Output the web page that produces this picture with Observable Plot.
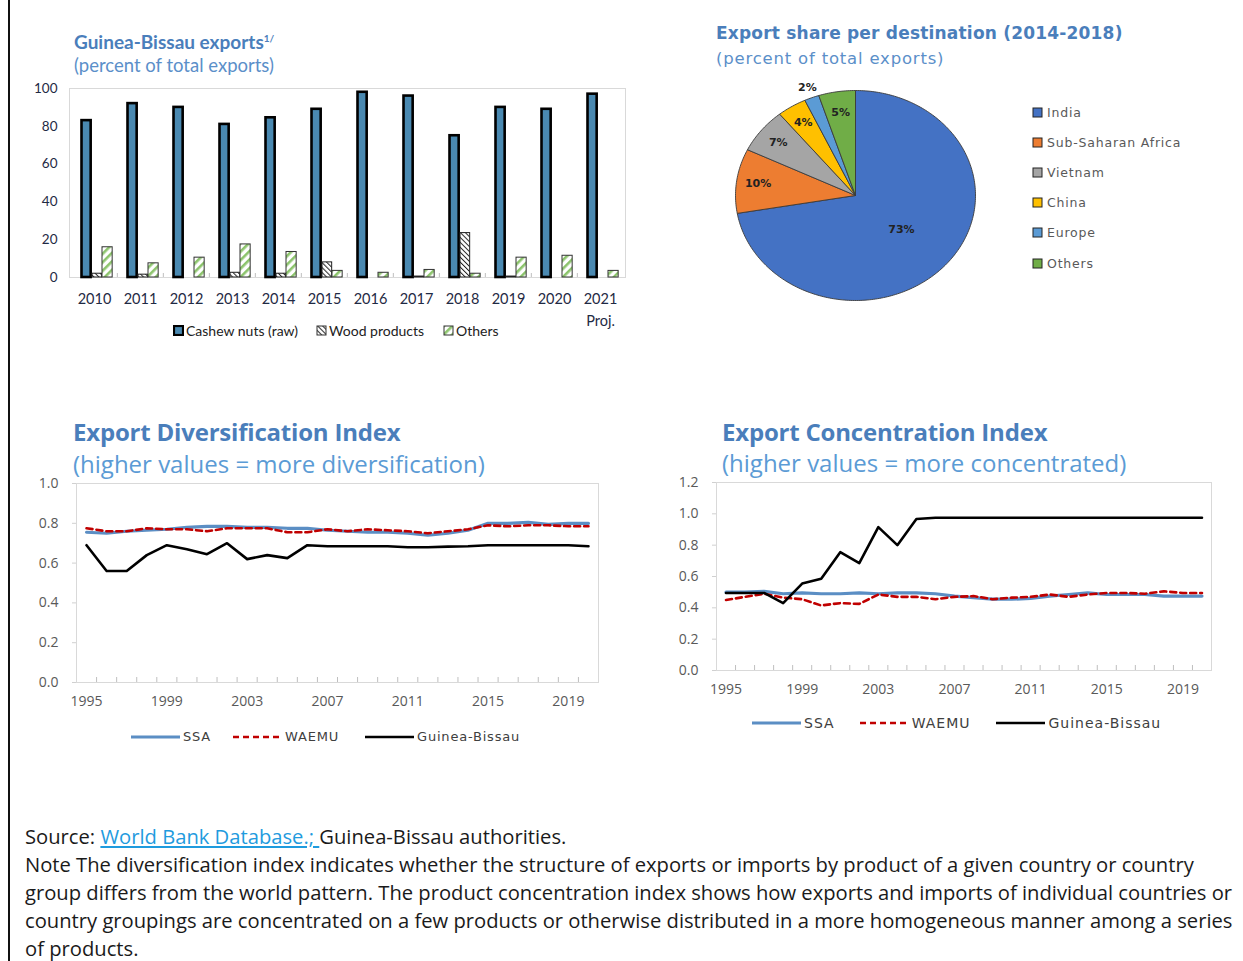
<!DOCTYPE html>
<html><head><meta charset="utf-8">
<script src="https://cdn.jsdelivr.net/npm/d3@7"></script>
<script src="https://cdn.jsdelivr.net/npm/@observablehq/plot@0.6"></script>
<style>
body{margin:0;width:1243px;height:961px;position:relative;background:#fff;overflow:hidden;font-family:"Open Sans",sans-serif}
.abs{position:absolute;white-space:nowrap}
.t1{font-family:Lato,sans-serif;font-size:19px;font-weight:bold;color:#4a7ebb;line-height:20px}
.s1{font-family:Lato,sans-serif;font-size:18.5px;color:#5b8fc9;line-height:20px}
.t2{font-family:"DejaVu Sans",sans-serif;font-size:17px;font-weight:bold;color:#4a7ebb;line-height:20px;letter-spacing:0.2px}
.s2{font-family:"DejaVu Sans",sans-serif;font-size:16.5px;color:#5b8fc9;line-height:20px;letter-spacing:0.8px}
.t3{font-family:"Open Sans",sans-serif;font-size:24px;font-weight:700;color:#4a7ebb;line-height:28px;letter-spacing:-0.2px}
.s3{font-family:"Open Sans",sans-serif;font-size:24px;color:#5b9bd5;line-height:28px}
.leg{display:flex;align-items:center;font-family:"DejaVu Sans",sans-serif;color:#404040}
.leg span{display:inline-flex;align-items:center}
.note{font-family:"Open Sans",sans-serif;font-size:20.2px;color:#1a1a1a;line-height:28px;left:25px}
.note a{color:#1f9bde;text-decoration:underline}
</style></head><body>
<svg width="0" height="0" style="position:absolute">
  <defs>
    <pattern id="hatchWood" patternUnits="userSpaceOnUse" width="3.5" height="3.5" patternTransform="rotate(-45)">
      <rect width="3.5" height="3.5" fill="#fff"/>
      <rect width="1" height="3.5" fill="#222"/>
    </pattern>
    <pattern id="hatchOthers" patternUnits="userSpaceOnUse" width="6" height="6" patternTransform="rotate(45)">
      <rect width="6" height="6" fill="#fff"/>
      <rect width="2.6" height="6" fill="#8cc46c"/>
    </pattern>
  </defs>
</svg>
<div class="abs" style="left:8px;top:0;width:2px;height:961px;background:#111"></div>

<div class="abs t1" style="left:74px;top:28px">Guinea-Bissau exports<sup style="font-size:10px">1/</sup></div>
<div class="abs s1" style="left:74px;top:55px">(percent of total exports)</div>
<div id="bar" class="abs" style="left:20px;top:80px"></div>
<div id="barLegend" class="abs leg" style="left:173px;top:322px;font-family:Lato,sans-serif;font-size:14px;color:#222"></div>

<div class="abs t2" style="left:716px;top:23px">Export share per destination (2014-2018)</div>
<div class="abs s2" style="left:716px;top:49px">(percent of total exports)</div>
<div id="pie" class="abs" style="left:700px;top:80px"></div>
<div id="pieLegend" class="abs" style="left:1032px;top:103px;font-family:'DejaVu Sans',sans-serif;font-size:12.5px;color:#595959;letter-spacing:0.8px"></div>

<div class="abs t3" style="left:73px;top:418px">Export Diversification Index</div>
<div class="abs s3" style="left:73px;top:450px">(higher values = more diversification)</div>
<div id="div" class="abs" style="left:20px;top:470px"></div>
<div id="divLegend" class="abs leg" style="left:131px;top:729px;font-size:13px;letter-spacing:0.8px"></div>

<div class="abs t3" style="left:722px;top:418px">Export Concentration Index</div>
<div class="abs s3" style="left:722px;top:449px">(higher values = more concentrated)</div>
<div id="conc" class="abs" style="left:660px;top:470px"></div>
<div id="concLegend" class="abs leg" style="left:752px;top:715px;font-size:14px;letter-spacing:1px"></div>

<div class="abs note" style="top:822px">Source: <a>World Bank Database.; </a>Guinea-Bissau authorities.<br>Note The diversification index indicates whether the structure of exports or imports by product of a given country or country<br>group differs from the world pattern. The product concentration index shows how exports and imports of individual countries or<br>country groupings are concentrated on a few products or otherwise distributed in a more homogeneous manner among a series<br>of products.</div>

<script>
// ---------- Data: Guinea-Bissau exports (percent of total exports) ----------
const barYears = ["2010","2011","2012","2013","2014","2015","2016","2017","2018","2019","2020","2021"];
const cashewNuts = [83, 92, 90, 81, 84.5, 89, 98, 96, 75, 90, 89, 97];
const woodProducts = [2, 1.5, 0, 2.5, 2, 8, 0, 0.5, 23.5, 0.5, 0, 0];
const otherExports = [16, 7.5, 10.5, 17.5, 13.5, 3.5, 2.5, 4, 2, 10.5, 11.5, 3.5];
const barSeries = ["Cashew nuts (raw)", "Wood products", "Others"];
const barYTicks = [0, 20, 40, 60, 80, 100];

// ---------- Data: Export share per destination (2014-2018) ----------
const pieNames = ["India", "Sub-Saharan Africa", "Vietnam", "China", "Europe", "Others"];
const pieShares = [73, 10, 7, 4, 2, 5];
const pieColors = ["#4472c4", "#ed7d31", "#a5a5a5", "#ffc000", "#5b9bd5", "#70ad47"];

// ---------- Data: indices ----------
const idxYears = [1995,1996,1997,1998,1999,2000,2001,2002,2003,2004,2005,2006,2007,2008,2009,2010,2011,2012,2013,2014,2015,2016,2017,2018,2019,2020];
const idxTickYears = [1995, 1999, 2003, 2007, 2011, 2015, 2019];
const seriesNames = ["SSA", "WAEMU", "Guinea-Bissau"];

const divSSA = [0.755,0.75,0.76,0.765,0.77,0.78,0.785,0.785,0.78,0.78,0.775,0.775,0.765,0.76,0.755,0.755,0.75,0.74,0.75,0.765,0.80,0.80,0.805,0.795,0.80,0.80];
const divWAEMU = [0.775,0.76,0.76,0.775,0.77,0.77,0.76,0.775,0.775,0.775,0.755,0.755,0.77,0.76,0.77,0.765,0.76,0.75,0.76,0.77,0.79,0.785,0.79,0.79,0.785,0.785];
const divGB = [0.69,0.56,0.56,0.64,0.69,0.67,0.645,0.70,0.62,0.64,0.625,0.69,0.685,0.685,0.685,0.685,0.68,0.68,0.683,0.685,0.69,0.69,0.69,0.69,0.69,0.685];
const divYTicks = [0, 0.2, 0.4, 0.6, 0.8, 1.0];

const concSSA = [0.50,0.50,0.505,0.49,0.495,0.49,0.49,0.495,0.49,0.495,0.495,0.49,0.475,0.465,0.455,0.455,0.46,0.475,0.485,0.495,0.485,0.485,0.485,0.475,0.475,0.475];
const concWAEMU = [0.45,0.47,0.49,0.465,0.455,0.415,0.43,0.425,0.485,0.47,0.47,0.455,0.47,0.475,0.455,0.465,0.47,0.485,0.47,0.485,0.495,0.495,0.49,0.505,0.495,0.495];
const concGB = [0.495,0.495,0.495,0.43,0.555,0.585,0.755,0.685,0.915,0.80,0.967,0.975,0.975,0.975,0.975,0.975,0.975,0.975,0.975,0.975,0.975,0.975,0.975,0.975,0.975,0.975];
const concYTicks = [0, 0.2, 0.4, 0.6, 0.8, 1.0, 1.2];

// ---------- styles ----------
const lineStyles = {
  "SSA": {stroke: "#5b8ec4", strokeWidth: 3.2, strokeDasharray: null},
  "WAEMU": {stroke: "#c00000", strokeWidth: 2.6, strokeDasharray: "6,4"},
  "Guinea-Bissau": {stroke: "#000", strokeWidth: 2.6, strokeDasharray: null}
};

// ---------- Bar chart ----------
{
  const W = 620, H = 262, mL = 49, mR = 15, mT = 8, mB = 65;
  const bw = (W - mL - mR) / barYears.length;
  const rows = barYears.map((y, i) => ({year: y, cashew: cashewNuts[i], wood: woodProducts[i], others: otherExports[i]}));
  const ph = H - mT - mB;
  const chart = Plot.plot({
    width: W, height: H, marginLeft: mL, marginRight: mR, marginTop: mT, marginBottom: mB,
    style: {fontFamily: 'Lato,sans-serif', fontSize: "14.5px", color: "#1f2a44", background: "transparent"},
    x: {type: "band", domain: barYears, padding: 0, label: null},
    y: {domain: [0, 100], label: null},
    marks: [
      Plot.frame({stroke: "#d9d9d9"}),
      Plot.ruleX(barYears.slice(1), {x: d => d, dx: -bw / 2, insetTop: ph - 4, stroke: "#bfbfbf"}),
      Plot.axisY({ticks: barYTicks, tickSize: 0, tickPadding: 12, label: null, fontSize: 13.5}),
      Plot.axisX({tickSize: 0, tickPadding: 11, label: null, tickFormat: d => d === "2021" ? "2021\nProj." : d, lineHeight: 1.5}),
      Plot.barY(rows, {x: "year", y: "cashew", fill: "#4a89b1", stroke: "#000", strokeWidth: 2.6, insetLeft: 10.5, insetRight: bw - 20}),
      Plot.barY(rows, {x: "year", y: "wood", fill: "url(#hatchWood)", stroke: "#222", strokeWidth: 1, insetLeft: 21, insetRight: bw - 31}),
      Plot.barY(rows, {x: "year", y: "others", fill: "url(#hatchOthers)", stroke: "#333", strokeWidth: 1, insetLeft: 31, insetRight: bw - 41.5})
    ]
  });
  document.getElementById("bar").appendChild(chart);

  const fills = [["#4a89b1", "#000", 2.2], ["url(#hatchWood)", "#333", 1], ["url(#hatchOthers)", "#333", 1]];
  const leg = document.getElementById("barLegend");
  leg.innerHTML = barSeries.map((s, i) =>
    `<span style="margin-right:${i === 0 ? 18 : 19}px"><svg width="11" height="11" style="margin-right:2px"><rect x="1" y="1" width="9" height="9" fill="${fills[i][0]}" stroke="${fills[i][1]}" stroke-width="${fills[i][2]}"/></svg>${s}</span>`
  ).join("");
}

// ---------- Pie chart ----------
{
  const W = 300, H = 240;
  const arcs = d3.pie().sort(null).value(d => d.share)(pieNames.map((n, i) => ({name: n, share: pieShares[i], color: pieColors[i]})));
  const marks = [];
  arcs.forEach(a => {
    const pts = [{x: 0, y: 0}];
    const n = Math.max(2, Math.ceil((a.endAngle - a.startAngle) / (Math.PI / 180)));
    for (let k = 0; k <= n; k++) {
      const t = a.startAngle + (a.endAngle - a.startAngle) * k / n;
      pts.push({x: Math.sin(t), y: Math.cos(t)});
    }
    pts.push({x: 0, y: 0});
    marks.push(Plot.line(pts, {x: "x", y: "y", fill: a.data.color, stroke: "#3a3a3a", strokeWidth: 0.9, strokeLinejoin: "round"}));
  });
  const labels = arcs.map(a => {
    const mid = (a.startAngle + a.endAngle) / 2;
    const r = a.data.name === "India" ? 0.5 : a.data.name === "Europe" ? 1.1 : a.data.name === "Others" ? 0.8 : 0.82;
    return {x: r * Math.sin(mid), y: r * Math.cos(mid), label: a.data.share + "%"};
  });
  marks.push(Plot.text(labels, {x: "x", y: "y", text: "label", fontWeight: "bold", fontSize: 11, fill: "#222"}));
  const chart = Plot.plot({
    width: W, height: H, marginLeft: 35, marginRight: 25, marginTop: 10, marginBottom: 20,
    style: {fontFamily: '"DejaVu Sans",sans-serif', background: "transparent"},
    x: {domain: [-1, 1], axis: null},
    y: {domain: [-1, 1], axis: null},
    marks
  });
  document.getElementById("pie").appendChild(chart);
  document.getElementById("pieLegend").innerHTML = pieNames.map((n, i) =>
    `<div style="height:30.2px;display:flex;align-items:center;margin-top:${i===0?-6:0}px"><svg width="11" height="11" style="margin-right:4px"><rect x="1" y="1" width="9" height="9" fill="${pieColors[i]}" stroke="#222" stroke-width="1"/></svg>${n}</div>`
  ).join("");
}

// ---------- Line charts ----------
function lineChart(el, {W, H, mL, mR, mT, mB, yMax, yTicks, ssa, waemu, gb}) {
  const ph = H - mT - mB;
  const series = {"SSA": ssa, "WAEMU": waemu, "Guinea-Bissau": gb};
  const marks = [
    Plot.frame({stroke: "#d9d9d9"}),
    Plot.ruleX(idxYears.slice(1), {x: d => d - 0.5, insetTop: ph - 5, stroke: "#bfbfbf"}),
    Plot.axisY({ticks: yTicks, tickFormat: d3.format(".1f"), tickSize: 4, tickPadding: 14, stroke: "#d0d0d0", label: null}),
    Plot.axisX({ticks: idxTickYears, tickFormat: d => String(d), tickSize: 0, tickPadding: 14, label: null})
  ];
  seriesNames.forEach(s => {
    const data = idxYears.map((y, i) => ({year: y, value: series[s][i]}));
    marks.push(Plot.line(data, {x: "year", y: "value", ...lineStyles[s], strokeLinejoin: "round"}));
  });
  const chart = Plot.plot({
    width: W, height: H, marginLeft: mL, marginRight: mR, marginTop: mT, marginBottom: mB,
    style: {fontFamily: '"Open Sans",sans-serif', fontSize: "14px", color: "#595959", background: "transparent"},
    x: {domain: [1994.5, 2020.5], label: null},
    y: {domain: [0, yMax], label: null},
    marks
  });
  document.getElementById(el).appendChild(chart);
}
lineChart("div", {W: 600, H: 250, mL: 56, mR: 22, mT: 13, mB: 38, yMax: 1.0, yTicks: divYTicks, ssa: divSSA, waemu: divWAEMU, gb: divGB});
lineChart("conc", {W: 570, H: 240, mL: 56, mR: 19, mT: 12, mB: 40, yMax: 1.2, yTicks: concYTicks, ssa: concSSA, waemu: concWAEMU, gb: concGB});

function lineLegend(el, gaps) {
  document.getElementById(el).innerHTML = seriesNames.map((s, i) => {
    const st = lineStyles[s];
    return `<span style="margin-right:${gaps[i]}px"><svg width="49" height="10" style="margin-right:3px"><line x1="0" x2="49" y1="5" y2="5" stroke="${st.stroke}" stroke-width="${st.strokeWidth}" ${st.strokeDasharray ? `stroke-dasharray="${st.strokeDasharray}"` : ""}/></svg>${s}</span>`;
  }).join("");
}
lineLegend("divLegend", [22, 26, 0]);
lineLegend("concLegend", [25, 26, 0]);
</script>
</body></html>
